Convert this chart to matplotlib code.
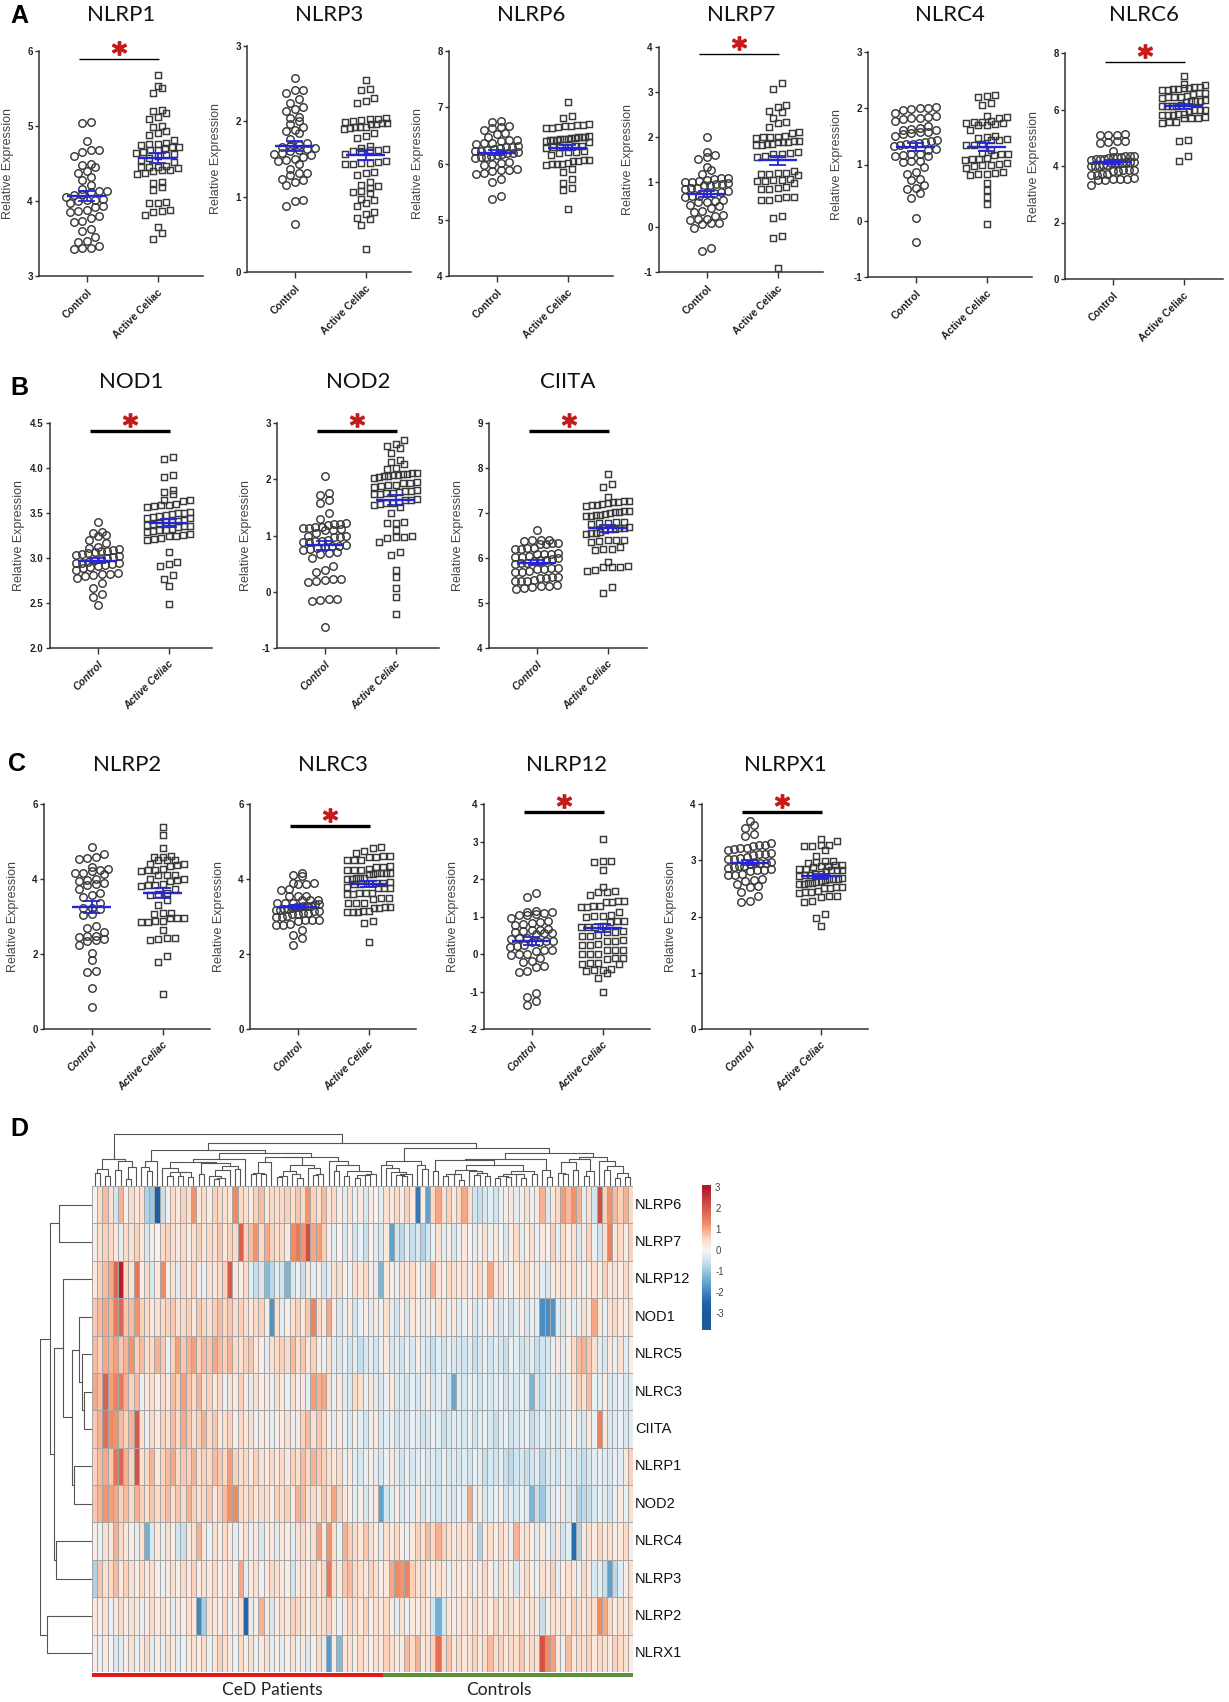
import numpy as np
import matplotlib
matplotlib.use("Agg")
import matplotlib.pyplot as plt
from matplotlib.colors import LinearSegmentedColormap, Normalize
from matplotlib.transforms import ScaledTranslation

plt.rcParams['font.family'] = ['Liberation Sans', 'DejaVu Sans']

W, H, DPI = 1229, 1702, 100

# ---------------- scatter data (relative expression) ----------------
groups = ["Control", "Active Celiac"]

nlrp1_ctrl = [5.05,5.04,4.80,4.68,4.68,4.66,4.60,4.50,4.48,4.45,4.40,4.37,4.32,4.28,4.22,4.16,4.14,4.13,4.12,4.10,4.08,4.06,4.03,4.02,4.01,4.00,3.97,3.94,3.92,3.88,3.87,3.86,3.80,3.77,3.74,3.72,3.63,3.60,3.52,3.47,3.45,3.40,3.38,3.37,3.36]
nlrp1_cel = [5.68,5.54,5.51,5.44,5.21,5.20,5.17,5.12,5.09,5.00,4.98,4.93,4.91,4.88,4.81,4.77,4.76,4.76,4.75,4.72,4.72,4.71,4.68,4.68,4.66,4.64,4.63,4.62,4.60,4.58,4.55,4.52,4.47,4.46,4.45,4.45,4.44,4.42,4.41,4.40,4.38,4.36,4.26,4.24,4.19,4.15,3.99,3.98,3.97,3.88,3.87,3.86,3.82,3.65,3.57,3.49]

nlrp3_ctrl = [2.58,2.42,2.41,2.38,2.29,2.25,2.19,2.17,2.14,2.06,2.05,2.01,1.96,1.92,1.88,1.87,1.84,1.76,1.71,1.69,1.67,1.66,1.65,1.63,1.62,1.61,1.58,1.57,1.55,1.53,1.50,1.49,1.48,1.44,1.37,1.32,1.31,1.29,1.24,1.22,1.19,1.15,0.95,0.94,0.87,0.64]
nlrp3_cel = [2.55,2.43,2.41,2.31,2.27,2.25,2.04,2.03,2.03,2.02,2.01,1.99,1.98,1.98,1.97,1.96,1.93,1.92,1.92,1.91,1.90,1.84,1.80,1.78,1.67,1.65,1.63,1.62,1.62,1.61,1.60,1.56,1.47,1.46,1.45,1.45,1.44,1.43,1.33,1.31,1.29,1.19,1.16,1.14,1.11,1.07,1.06,1.05,0.97,0.95,0.92,0.87,0.79,0.77,0.72,0.70,0.62,0.30]

nlrp6_ctrl = [6.75,6.73,6.66,6.65,6.64,6.60,6.55,6.53,6.47,6.42,6.41,6.40,6.37,6.36,6.35,6.31,6.30,6.29,6.28,6.25,6.24,6.23,6.22,6.21,6.19,6.18,6.17,6.16,6.13,6.12,6.11,6.10,6.02,6.01,6.00,5.98,5.90,5.89,5.88,5.86,5.84,5.82,5.73,5.67,5.43,5.37]
nlrp6_cel = [7.09,6.84,6.81,6.70,6.69,6.68,6.67,6.66,6.65,6.64,6.63,6.49,6.48,6.47,6.47,6.46,6.45,6.44,6.44,6.43,6.42,6.42,6.41,6.40,6.39,6.32,6.31,6.30,6.30,6.29,6.28,6.22,6.21,6.20,6.19,6.15,6.07,6.06,6.05,6.04,6.01,6.00,6.00,5.99,5.98,5.91,5.85,5.73,5.66,5.57,5.53,5.20]

nlrp7_ctrl = [2.00,1.67,1.60,1.55,1.52,1.34,1.27,1.18,1.10,1.08,1.07,1.05,1.02,1.01,1.00,0.98,0.96,0.95,0.94,0.93,0.87,0.86,0.85,0.80,0.78,0.76,0.75,0.70,0.69,0.67,0.60,0.58,0.56,0.55,0.48,0.46,0.42,0.36,0.33,0.27,0.25,0.18,0.17,0.15,0.10,0.08,0.07,-0.02,-0.47,-0.53]
nlrp7_cel = [3.20,3.07,2.71,2.66,2.58,2.56,2.42,2.34,2.32,2.22,2.12,2.09,2.02,2.01,2.00,1.99,1.98,1.92,1.91,1.90,1.89,1.88,1.85,1.84,1.83,1.82,1.66,1.64,1.63,1.62,1.58,1.56,1.25,1.20,1.19,1.18,1.17,1.16,1.06,1.05,1.04,1.03,1.02,0.97,0.88,0.86,0.85,0.84,0.67,0.66,0.65,0.61,0.59,0.25,0.19,-0.20,-0.24,-0.90]

nlrc4_ctrl = [2.02,2.01,2.00,1.99,1.97,1.91,1.86,1.84,1.83,1.82,1.81,1.77,1.68,1.65,1.63,1.62,1.61,1.58,1.57,1.56,1.55,1.50,1.43,1.42,1.40,1.39,1.37,1.36,1.35,1.33,1.27,1.25,1.19,1.18,1.17,1.16,1.15,1.07,1.06,1.04,0.95,0.86,0.84,0.74,0.72,0.64,0.59,0.57,0.50,0.41,0.05,-0.37]
nlrc4_cel = [2.24,2.22,2.20,2.09,2.05,1.86,1.84,1.82,1.77,1.76,1.75,1.74,1.73,1.72,1.71,1.70,1.62,1.50,1.49,1.48,1.45,1.44,1.43,1.36,1.35,1.34,1.26,1.20,1.19,1.18,1.17,1.11,1.10,1.09,1.08,1.02,1.01,1.00,0.99,0.98,0.94,0.86,0.85,0.84,0.83,0.82,0.67,0.55,0.43,0.29,-0.05]

nlrc6_ctrl = [5.12,5.10,5.09,5.08,4.90,4.87,4.85,4.80,4.52,4.36,4.35,4.34,4.33,4.32,4.31,4.27,4.26,4.25,4.24,4.23,4.15,4.14,4.13,4.12,4.12,4.11,4.10,4.03,4.02,4.01,4.00,3.99,3.87,3.86,3.85,3.84,3.83,3.71,3.70,3.69,3.68,3.56,3.55,3.54,3.53,3.52,3.51,3.34]
nlrc6_cel = [7.20,6.92,6.88,6.80,6.78,6.76,6.75,6.72,6.71,6.70,6.68,6.60,6.58,6.56,6.48,6.46,6.45,6.44,6.42,6.32,6.31,6.30,6.29,6.28,6.15,6.14,6.13,6.12,6.11,5.99,5.98,5.97,5.96,5.84,5.83,5.82,5.81,5.80,5.72,5.71,5.70,5.69,5.57,5.55,5.53,4.93,4.88,4.34,4.17]

nod1_ctrl = [3.40,3.29,3.28,3.26,3.24,3.20,3.17,3.12,3.11,3.10,3.09,3.08,3.08,3.07,3.06,3.04,3.03,3.02,3.01,3.00,2.99,2.98,2.96,2.95,2.95,2.94,2.93,2.92,2.91,2.90,2.89,2.87,2.83,2.82,2.82,2.81,2.80,2.78,2.72,2.67,2.60,2.57,2.48]
nod1_cel = [4.12,4.10,3.92,3.90,3.76,3.73,3.71,3.65,3.64,3.63,3.60,3.59,3.59,3.58,3.57,3.51,3.50,3.50,3.49,3.48,3.47,3.46,3.45,3.44,3.42,3.41,3.40,3.40,3.39,3.38,3.37,3.36,3.36,3.35,3.32,3.31,3.31,3.30,3.29,3.27,3.26,3.25,3.24,3.22,3.21,3.20,3.07,2.96,2.93,2.91,2.81,2.77,2.69,2.49]

nod2_ctrl = [2.05,1.75,1.72,1.64,1.57,1.40,1.30,1.22,1.21,1.20,1.19,1.16,1.15,1.14,1.13,1.11,1.10,1.09,1.04,1.00,0.99,0.98,0.97,0.92,0.91,0.90,0.89,0.88,0.83,0.82,0.81,0.80,0.77,0.76,0.75,0.70,0.69,0.68,0.60,0.45,0.39,0.36,0.23,0.22,0.21,0.20,0.18,-0.12,-0.13,-0.14,-0.17,-0.63]
nod2_cel = [2.70,2.62,2.59,2.55,2.46,2.35,2.31,2.28,2.20,2.18,2.12,2.11,2.10,2.09,2.08,2.07,2.06,2.05,2.04,2.03,1.95,1.94,1.93,1.90,1.89,1.88,1.87,1.81,1.80,1.79,1.78,1.76,1.75,1.74,1.73,1.65,1.64,1.63,1.59,1.58,1.57,1.56,1.55,1.50,1.40,1.24,1.23,1.22,1.10,0.99,0.98,0.97,0.96,0.89,0.71,0.65,0.39,0.27,0.06,-0.09,-0.40]

ciita_ctrl = [6.62,6.41,6.40,6.39,6.38,6.34,6.33,6.32,6.31,6.23,6.22,6.21,6.20,6.11,6.10,6.09,6.08,6.04,6.03,6.02,6.01,5.97,5.96,5.95,5.94,5.89,5.88,5.87,5.78,5.77,5.76,5.75,5.71,5.70,5.69,5.58,5.57,5.56,5.55,5.51,5.50,5.49,5.48,5.39,5.38,5.37,5.36,5.34,5.32]
ciita_cel = [7.86,7.64,7.57,7.36,7.27,7.26,7.25,7.24,7.23,7.19,7.18,7.17,7.16,7.05,7.04,7.03,7.02,7.01,6.97,6.96,6.95,6.94,6.93,6.80,6.79,6.78,6.77,6.76,6.68,6.67,6.66,6.65,6.64,6.63,6.57,6.56,6.55,6.54,6.41,6.40,6.39,6.37,6.35,6.24,6.20,6.19,6.18,5.92,5.83,5.81,5.80,5.79,5.74,5.72,5.35,5.22]

nlrp2_ctrl = [4.85,4.67,4.58,4.56,4.54,4.33,4.26,4.24,4.22,4.17,4.15,4.13,4.00,3.98,3.96,3.89,3.87,3.85,3.73,3.62,3.58,3.53,3.35,3.24,3.22,3.20,3.06,3.04,2.74,2.69,2.60,2.49,2.47,2.45,2.40,2.38,2.36,2.25,2.04,1.85,1.55,1.53,1.09,0.59]
nlrp2_cel = [5.38,5.17,4.82,4.62,4.60,4.58,4.52,4.51,4.50,4.40,4.39,4.37,4.36,4.26,4.25,4.23,4.22,4.12,4.11,4.10,4.00,3.99,3.97,3.96,3.86,3.85,3.83,3.82,3.73,3.62,3.60,3.58,3.44,3.31,3.10,3.09,3.08,2.97,2.96,2.95,2.89,2.88,2.86,2.85,2.64,2.43,2.42,2.41,2.38,1.94,1.80,0.94]

nlrc3_ctrl = [4.15,4.11,4.07,3.90,3.89,3.88,3.87,3.74,3.72,3.56,3.55,3.54,3.45,3.44,3.43,3.37,3.36,3.35,3.34,3.33,3.29,3.28,3.27,3.26,3.25,3.24,3.20,3.19,3.18,3.17,3.16,3.15,3.10,3.09,3.08,3.07,3.01,3.00,2.99,2.92,2.91,2.90,2.89,2.79,2.78,2.77,2.63,2.51,2.42,2.25]
nlrc3_cel = [4.86,4.82,4.76,4.70,4.62,4.61,4.60,4.59,4.52,4.51,4.50,4.34,4.33,4.32,4.26,4.25,4.24,4.23,4.17,4.16,4.15,4.15,4.14,4.13,4.04,4.03,4.02,4.01,4.00,3.91,3.90,3.89,3.89,3.88,3.87,3.78,3.77,3.76,3.75,3.64,3.63,3.62,3.61,3.60,3.50,3.49,3.48,3.37,3.36,3.35,3.26,3.25,3.24,3.23,3.15,3.14,3.13,3.12,3.11,2.87,2.82,2.33]

nlrp12_ctrl = [1.62,1.53,1.15,1.13,1.12,1.10,1.06,1.05,1.03,0.95,0.88,0.86,0.84,0.79,0.77,0.67,0.65,0.64,0.62,0.58,0.56,0.55,0.53,0.43,0.42,0.40,0.36,0.34,0.33,0.31,0.23,0.22,0.20,0.12,0.11,0.09,0.01,0.00,-0.02,-0.11,-0.19,-0.21,-0.32,-0.34,-0.45,-0.47,-1.05,-1.14,-1.26,-1.35]
nlrp12_cel = [3.08,2.49,2.47,2.46,2.24,1.80,1.67,1.66,1.65,1.58,1.42,1.41,1.40,1.39,1.28,1.27,1.26,1.25,1.13,1.03,1.02,1.01,1.00,0.88,0.87,0.86,0.74,0.73,0.72,0.71,0.61,0.60,0.59,0.50,0.49,0.48,0.37,0.36,0.35,0.26,0.25,0.24,0.12,0.11,0.10,0.01,0.00,-0.01,-0.10,-0.11,-0.12,-0.24,-0.25,-0.26,-0.27,-0.41,-0.42,-0.43,-0.44,-0.50,-0.64,-1.00]

nlrpx1_ctrl = [3.70,3.63,3.57,3.46,3.44,3.30,3.28,3.27,3.26,3.22,3.21,3.20,3.19,3.13,3.12,3.11,3.10,3.05,3.04,3.03,3.02,2.97,2.96,2.96,2.95,2.94,2.90,2.89,2.88,2.87,2.84,2.83,2.82,2.81,2.75,2.74,2.73,2.66,2.65,2.64,2.58,2.54,2.52,2.44,2.36,2.28,2.26]
nlrpx1_cel = [3.37,3.35,3.28,3.27,3.26,3.25,3.19,3.08,2.99,2.98,2.97,2.96,2.92,2.91,2.90,2.89,2.88,2.85,2.84,2.83,2.83,2.82,2.81,2.76,2.75,2.74,2.73,2.72,2.68,2.67,2.66,2.66,2.65,2.64,2.61,2.60,2.59,2.58,2.57,2.53,2.52,2.51,2.50,2.45,2.44,2.43,2.42,2.37,2.36,2.35,2.28,2.26,2.04,1.98,1.83]

# ---------------- heatmap data (scaled expression, columns in display order) ----------------
hm_genes = ["NLRP6", "NLRP7", "NLRP12", "NOD1", "NLRC5", "NLRC3", "CIITA",
            "NLRP1", "NOD2", "NLRC4", "NLRP3", "NLRP2", "NLRX1"]
n_ced, n_controls = 56, 48
hm_groups = ["CeD Patients", "Controls"]

hm_nlrp6 = [0.1,0.5,0.8,0.4,-0.5,0.9,0.1,0.5,0.3,0.4,-0.8,-1.0,-2.8,-0.6,0.2,0.5,0.3,0.6,0.4,1.2,0.3,0.5,0.2,0.6,0.5,0.4,0.3,1.3,0.5,0.4,0.2,0.6,0.8,0.3,0.5,0.4,
            0.5,0.6,0.4,0.7,0.5,1.2,0.6,0.4,0.8,0.3,0.5,0.2,-0.3,0.4,-0.2,0.3,-0.4,0.2,0.1,-0.3,0.4,0.3,0.5,0.2,0.6,0.3,-2.2,0.2,-1.6,0.5,1.0,0.4,0.6,0.3,
            0.5,1.0,0.4,-0.5,-0.6,-0.4,-0.3,-0.5,-0.2,0.2,0.3,-0.3,0.2,0.4,-0.2,0.3,0.9,-0.4,0.3,0.5,1.1,0.8,1.2,0.9,-0.3,0.4,-0.5,2.2,0.6,1.2,0.8,0.6,0.9,0.5]
hm_nlrp7 = [0.2,0.4,0.6,0.5,0.3,-0.3,0.5,0.4,0.6,0.3,-0.4,0.2,0.1,0.5,0.6,0.4,0.3,0.5,0.2,0.4,0.6,0.3,0.5,0.4,0.7,0.3,0.6,0.5,1.9,0.6,0.8,1.2,0.5,1.0,0.6,0.4,
            0.5,0.3,1.3,1.5,1.2,2.2,1.0,1.1,0.6,0.2,-0.3,0.1,-0.4,0.2,-0.5,-0.2,-0.6,0.1,-0.3,-0.4,0.3,-1.6,-0.5,-0.7,-0.3,-0.6,-0.4,-0.8,-0.5,-0.2,0.4,-0.3,0.2,-0.4,
            -0.2,0.3,0.1,-0.3,0.2,0.4,-0.2,0.3,0.1,-0.4,0.2,0.5,-0.3,0.2,0.4,-0.2,0.3,0.1,0.6,-0.3,0.5,0.2,0.4,-0.4,0.3,0.6,-0.2,-0.5,0.4,1.4,0.3,0.5,0.2,0.6]
hm_nlrp12 = [0.3,0.6,0.8,1.0,1.8,2.9,0.5,0.4,1.6,0.2,0.5,-0.4,0.3,1.3,0.2,0.4,-0.3,0.5,0.3,0.6,0.2,-0.2,0.4,0.3,0.5,0.6,2.0,0.3,0.2,0.5,-0.3,-0.6,-0.4,-1.2,-0.7,-0.3,
             -0.5,-1.3,-0.4,-0.2,-0.6,0.3,-0.3,0.2,-0.5,-0.3,0.4,0.5,0.2,-0.2,0.4,0.3,0.5,0.2,-0.3,-1.3,0.3,0.2,-0.2,0.4,0.3,0.5,0.2,-0.3,0.4,0.9,0.3,0.2,0.5,0.4,
             0.3,0.4,-0.2,0.3,0.5,0.2,1.0,0.3,0.4,0.2,-0.2,0.3,0.4,0.5,0.2,0.3,-0.3,-0.4,0.2,0.3,0.4,0.2,0.5,0.3,-0.2,0.3,0.4,0.2,0.6,0.3,0.4,0.2,0.5,0.3]
hm_nod1 = [0.7,0.8,1.0,0.9,1.5,1.8,0.7,0.8,1.2,0.6,0.5,0.3,0.4,0.5,0.6,0.7,0.4,0.5,0.6,0.3,0.7,0.5,0.4,0.6,0.8,0.5,0.7,0.5,0.6,0.4,0.3,0.5,0.6,0.2,-1.8,0.4,
           -0.3,0.2,0.4,0.6,0.3,0.7,1.4,0.5,0.3,1.0,0.2,-0.4,-0.2,0.3,-0.5,-0.2,0.2,-0.3,0.3,-0.2,0.4,-0.3,-0.5,0.2,-0.4,0.3,0.2,-0.3,0.3,-0.2,0.4,0.3,-0.2,0.3,
           -0.3,-0.2,0.2,-0.4,-0.3,-0.2,0.3,-0.3,-0.4,-0.2,-0.5,-0.3,0.2,-0.4,-0.2,-0.3,-1.9,-1.9,-1.8,-0.3,-0.4,0.2,-0.3,-0.2,0.4,0.3,1.0,0.3,-0.2,0.4,0.5,0.3,0.2,0.4]
hm_nlrc5 = [0.8,0.6,1.0,0.9,1.1,0.7,0.9,1.2,0.6,0.8,0.4,0.5,0.9,0.7,-0.2,0.6,1.1,0.7,0.9,1.1,0.6,0.8,0.7,1.0,0.8,0.6,0.9,0.5,0.4,0.6,0.7,0.3,0.2,-0.3,0.4,0.5,
            0.6,0.5,0.8,0.4,0.7,0.3,0.6,0.2,-0.2,0.4,-0.3,-0.4,-0.2,-0.5,-0.3,-0.6,-0.4,-0.3,-0.5,-0.2,0.3,-0.4,-0.3,-0.5,-0.2,-0.4,0.2,-0.3,-0.4,-0.6,-0.3,-0.5,-0.2,-0.4,
            -0.4,-0.5,-0.3,-0.6,-0.4,-0.2,-0.5,-0.3,-0.4,-0.6,-0.2,-0.3,-0.5,-0.4,-0.3,-0.6,-0.5,-0.4,-0.2,0.3,-0.3,0.2,0.5,0.8,0.9,0.7,0.4,-0.3,-0.4,0.3,-0.2,0.4,-0.3,0.2]
hm_nlrc3 = [1.0,0.8,1.9,1.1,1.4,1.5,0.9,0.6,0.8,-0.2,0.3,0.4,0.2,0.5,0.3,0.8,0.6,1.1,0.7,0.5,0.9,0.4,0.6,0.3,0.5,-0.2,0.4,0.3,0.6,0.2,-0.3,0.4,0.2,0.3,-0.2,0.4,
            0.3,-0.2,0.4,0.2,0.3,-0.3,1.1,0.9,1.0,0.4,-0.2,0.3,-0.3,-0.4,0.5,0.4,-0.2,0.3,-0.3,-0.4,-0.2,0.3,-0.4,-0.3,-0.5,-0.2,-0.4,-0.3,0.2,-0.4,-0.3,-0.2,-0.5,-1.5,
            -0.3,-0.4,-0.2,-0.3,-0.5,-0.2,-0.4,-0.3,-0.2,-0.5,-0.3,-0.4,-0.2,-0.3,-1.3,-0.4,-0.6,-0.3,-0.2,-0.4,-0.3,-0.2,0.3,0.6,0.4,0.8,-0.2,-0.3,0.2,-0.4,-0.3,-0.2,-0.4,-0.3]
hm_ciita = [0.7,0.9,1.7,1.3,1.2,0.8,0.6,0.9,2.0,0.4,-0.2,0.5,0.3,0.6,0.4,0.8,0.5,1.0,0.7,0.4,0.6,0.9,0.5,0.7,0.3,0.4,0.6,0.2,0.5,0.3,0.4,-0.2,0.3,0.2,-0.3,0.2,
            0.2,0.4,-0.2,0.3,0.6,0.8,0.4,0.7,0.5,0.2,-0.3,0.3,-0.2,-0.4,0.2,-0.3,-0.5,-0.2,0.3,-0.4,-0.3,-0.2,-0.5,-0.3,-0.4,-0.2,-0.3,-0.5,-0.4,-0.2,-0.3,-0.6,-0.4,-0.3,
            -0.3,-0.4,-0.2,-0.5,-0.3,-0.2,-0.4,-0.6,-0.3,-0.2,-0.5,-0.4,-0.3,-0.2,-0.6,-0.4,-0.3,-0.5,-0.2,-0.4,-0.3,-0.2,0.2,-0.3,-0.4,0.3,-0.2,1.4,0.3,-0.4,-0.3,-0.2,-0.4,-0.3]
hm_nlrp1 = [0.6,0.8,1.0,0.7,1.6,1.8,0.9,0.6,2.1,0.4,0.5,0.9,0.3,0.6,0.8,1.0,0.5,0.7,0.6,0.9,0.4,0.6,0.5,0.8,0.7,0.5,1.1,0.6,0.4,0.5,0.3,0.6,0.4,0.2,0.5,0.3,
            0.5,0.3,0.6,0.4,0.8,0.5,0.9,0.7,0.6,0.4,0.3,0.5,-0.2,0.3,-0.3,-0.4,-0.2,0.2,-0.3,-0.4,-0.2,0.3,-0.3,-0.5,-0.2,-0.4,-0.3,-0.2,-0.4,-0.3,-0.5,-0.2,-0.4,-0.3,
            -0.4,-0.3,-0.5,-0.2,-0.3,-0.6,-0.4,-0.5,-0.3,-0.6,-0.7,-0.5,-0.4,-0.6,-0.5,-0.3,-0.7,-0.4,-0.3,-0.5,-0.2,-0.4,-0.3,-0.5,-0.6,-0.4,-0.3,-0.2,-0.3,-0.4,-0.2,-0.3,0.3,0.6]
hm_nod2 = [0.7,0.9,1.2,1.1,1.0,0.6,0.8,0.5,0.9,0.6,0.4,0.7,0.5,0.6,0.8,0.4,0.7,0.5,0.9,0.6,0.4,0.5,0.7,0.3,0.6,0.8,1.2,1.3,0.5,0.4,0.6,0.3,0.5,0.4,0.2,0.6,
           0.4,0.6,0.3,0.9,0.8,0.4,0.5,0.3,0.7,0.4,1.0,0.6,0.3,0.2,-0.3,0.2,-0.4,-0.2,0.3,-1.6,-0.5,-0.3,0.2,-0.4,-0.2,-0.3,0.3,-0.4,-0.2,-0.3,-0.5,-0.2,-0.3,-0.4,
           -0.2,-0.3,1.0,-0.2,0.3,-0.4,-0.3,-0.2,0.2,-0.5,-0.3,-0.4,-0.2,-0.3,-1.3,-0.6,-1.0,-0.4,-0.3,-0.2,0.3,-0.4,-0.3,-0.8,-0.7,-0.6,-0.4,-0.2,-0.3,-0.5,-0.2,0.3,-0.2,0.4]
hm_nlrc4 = [0.2,-0.2,0.4,0.3,0.9,0.5,0.3,0.2,-0.3,0.4,-1.4,-0.4,0.3,-0.2,0.4,0.2,-0.5,-0.6,0.3,0.4,0.9,0.3,-0.2,0.4,0.2,0.5,0.3,-0.3,0.2,0.4,-0.2,0.3,-0.4,0.2,0.3,-0.3,
            0.3,0.2,-0.3,0.4,0.5,0.3,0.4,1.1,0.3,1.2,0.4,-0.2,0.9,0.6,0.5,0.3,0.7,0.4,0.2,-0.3,0.4,0.3,0.5,0.2,-0.2,0.3,0.6,0.4,0.8,0.5,0.9,0.6,0.4,0.3,
            0.4,0.3,0.5,0.2,-0.8,0.3,0.4,0.2,0.5,0.3,-0.2,0.9,0.3,0.4,0.2,-0.3,0.3,-0.2,-0.4,0.3,-0.5,-0.3,-2.4,-0.8,0.3,0.4,0.2,0.5,0.3,0.4,0.2,0.3,0.5,0.2]
hm_nlrp3 = [-0.8,0.7,0.4,0.5,0.8,0.3,0.6,0.4,0.2,0.5,0.3,0.4,0.2,-0.2,0.3,0.4,0.2,0.5,0.3,0.6,0.2,0.4,0.3,0.5,0.2,0.3,0.4,0.2,1.0,-0.3,0.3,0.4,-0.2,0.3,0.5,0.4,
            0.3,0.2,-0.5,0.3,0.4,0.2,0.6,0.3,0.5,1.5,0.4,0.3,0.7,0.8,0.5,0.4,0.3,0.6,0.4,0.2,0.3,1.0,1.3,1.2,1.4,0.6,0.4,0.5,0.3,0.2,0.4,0.3,-0.2,0.3,
            0.3,0.2,0.4,-0.2,0.3,0.5,0.2,-0.3,0.4,0.3,0.2,-0.4,0.3,0.5,0.2,-0.2,0.4,0.3,0.6,-0.3,0.2,0.4,0.3,-0.2,0.5,0.3,-0.4,-0.3,-0.6,-1.6,-0.7,-0.3,0.2,0.4]
hm_nlrp2 = [0.3,0.2,0.4,-0.2,0.3,0.5,0.2,0.4,0.3,-0.2,0.2,0.5,0.3,0.4,0.2,-0.3,0.3,0.2,0.4,0.3,-2.0,-0.9,0.4,0.3,0.2,0.5,-0.2,0.3,0.4,-2.5,-0.3,0.2,0.9,0.3,-0.4,0.2,
            0.4,0.3,0.6,0.5,0.4,0.2,0.5,0.3,0.4,0.6,0.2,-0.2,0.3,0.5,0.4,0.3,0.6,0.2,0.4,0.3,0.5,0.2,-0.3,0.4,-0.2,0.3,0.2,0.4,0.3,-0.5,-1.4,-0.4,0.3,0.2,
            0.3,0.4,0.2,0.5,0.3,0.4,0.2,0.6,0.3,0.5,0.4,0.3,0.5,0.2,0.4,0.3,-0.6,0.2,0.4,0.3,0.5,0.2,0.6,0.4,0.3,0.5,0.4,1.3,1.0,0.5,0.2,0.4,0.3,0.5]
hm_nlrx1 = [0.2,-0.2,0.3,0.1,-0.4,-0.3,0.2,0.4,-0.2,0.3,0.5,-0.3,0.2,-0.2,0.4,0.3,-0.3,-0.2,0.3,0.4,0.2,0.5,-0.2,0.3,0.6,0.4,0.3,-0.2,0.5,0.2,0.4,-0.2,0.3,0.4,-0.3,0.2,
            -0.3,0.2,0.4,-0.2,0.3,-0.4,0.2,0.5,-0.3,-1.7,0.2,-1.2,0.3,0.4,0.2,0.5,0.3,0.2,0.4,0.3,0.6,0.4,0.3,0.2,0.8,0.5,0.9,0.3,0.4,0.6,1.7,0.5,0.7,0.3,
            0.5,0.3,0.4,0.6,0.3,0.5,0.8,0.4,0.6,0.3,0.5,0.4,0.7,0.3,0.5,0.4,2.1,1.3,1.1,0.3,-0.2,0.8,0.3,0.5,0.4,0.6,0.3,0.5,0.4,0.3,0.6,0.5,0.4,0.2]

# gene (row) dendrogram: (child a, child b, merge height); new nodes numbered from 13
row_links = [(5, 6, 8.4), (4, 13, 10.0), (3, 14, 13.4), (7, 8, 17.7), (15, 16, 20.0),
             (2, 17, 29.4), (0, 1, 33.4), (9, 10, 36.0), (18, 20, 37.7), (19, 21, 42.0),
             (11, 12, 45.4), (22, 23, 51.7)]

# ---------------- figure ----------------
fig = plt.figure(figsize=(W / DPI, H / DPI), dpi=DPI)


def px_axes(left, top, width, height):
    return fig.add_axes([left / W, 1 - (top + height) / H, width / W, height / H])


def swarm(vals, center, px_per_unit):
    v = np.sort(np.asarray(vals, dtype=float))
    xs = np.zeros(len(v))
    tol = 6.5 / px_per_unit
    rows, cur = [], [0]
    for i in range(1, len(v)):
        if v[i] - v[cur[0]] <= tol:
            cur.append(i)
        else:
            rows.append(cur)
            cur = [i]
    rows.append(cur)
    for r in rows:
        k = len(r)
        step = 0.115
        if k > 1 and (k - 1) * step > 0.6:
            step = 0.6 / (k - 1)
        for j, idx in enumerate(r):
            xs[idx] = center + (j - (k - 1) / 2) * step
    return xs, v


PX_X = 71.0  # pixels between the two groups
BLUE = '#2525d8'
EDGE = '#3a3a3a'
TITLE_Y = {"A": 15, "B": 382, "C": 765}

panels = [
    # row, title, control, celiac, ylim, yticks, labels, bar y, box, italic, thick bar
    ("A", "NLRP1", nlrp1_ctrl, nlrp1_cel, (3, 6), [3, 4, 5, 6], None, 5.89, (39, 51, 164, 225), False, False),
    ("A", "NLRP3", nlrp3_ctrl, nlrp3_cel, (0, 3), [0, 1, 2, 3], None, None, (247, 46, 164, 226), False, False),
    ("A", "NLRP6", nlrp6_ctrl, nlrp6_cel, (4, 8), [4, 5, 6, 7, 8], None, None, (449, 51, 164, 225), False, False),
    ("A", "NLRP7", nlrp7_ctrl, nlrp7_cel, (-1, 4), [-1, 0, 1, 2, 3, 4], None, 3.84, (659, 47, 164, 225), False, False),
    ("A", "NLRC4", nlrc4_ctrl, nlrc4_cel, (-1, 3), [-1, 0, 1, 2, 3], None, None, (868, 52, 164, 225), False, False),
    ("A", "NLRC6", nlrc6_ctrl, nlrc6_cel, (0, 8), [0, 2, 4, 6, 8], None, 7.68, (1065, 53, 158, 226), False, False),
    ("B", "NOD1", nod1_ctrl, nod1_cel, (2, 4.5), [2, 2.5, 3, 3.5, 4, 4.5], ["2.0", "2.5", "3.0", "3.5", "4.0", "4.5"], 4.41, (50, 423, 162, 225), True, True),
    ("B", "NOD2", nod2_ctrl, nod2_cel, (-1, 3), [-1, 0, 1, 2, 3], None, 2.86, (277, 423, 162, 225), True, True),
    ("B", "CIITA", ciita_ctrl, ciita_cel, (4, 9), [4, 5, 6, 7, 8, 9], None, 8.82, (489, 423, 158, 225), True, True),
    ("C", "NLRP2", nlrp2_ctrl, nlrp2_cel, (0, 6), [0, 2, 4, 6], None, None, (44, 804, 166, 225), True, True),
    ("C", "NLRC3", nlrc3_ctrl, nlrc3_cel, (0, 6), [0, 2, 4, 6], None, 5.41, (250, 804, 166, 225), True, True),
    ("C", "NLRP12", nlrp12_ctrl, nlrp12_cel, (-2, 4), [-2, -1, 0, 1, 2, 3, 4], None, 3.79, (484, 804, 166, 225), True, True),
    ("C", "NLRPX1", nlrpx1_ctrl, nlrpx1_cel, (0, 4), [0, 1, 2, 3, 4], None, 3.86, (702, 804, 166, 225), True, True),
]

for row, title, ctrl, cel, ylim, yticks, ylabels, bar_y, box, italic, thick in panels:
    left, top, width, height = box
    ax = px_axes(left, top, width, height)
    ax.set_xlim(-0.67, width / PX_X - 0.67)
    ax.set_ylim(*ylim)
    ppu = height / (ylim[1] - ylim[0])
    for pos, vals, mk, ms in ((0, ctrl, 'o', 5.4), (1, cel, 's', 5.0)):
        xs, v = swarm(vals, pos, ppu)
        ax.plot(xs, v, ls='none', marker=mk, ms=ms, mfc='none', mec=EDGE, mew=1.05, zorder=3)
        m = v.mean()
        s = v.std(ddof=1) / np.sqrt(len(v))
        ax.hlines(m, pos - 0.27, pos + 0.27, color=BLUE, lw=1.7, zorder=5)
        ax.vlines(pos, m - s, m + s, color=BLUE, lw=1.3, zorder=5)
        ax.hlines([m - s, m + s], pos - 0.12, pos + 0.12, color=BLUE, lw=1.3, zorder=5)
    for side in ('top', 'right'):
        ax.spines[side].set_visible(False)
    for side in ('left', 'bottom'):
        ax.spines[side].set_color('#333333')
        ax.spines[side].set_linewidth(1.1)
    ax.set_yticks(yticks)
    ax.set_yticklabels(ylabels if ylabels else [str(t) for t in yticks],
                       fontsize=7, fontweight='bold', color='#222222')
    ax.set_xticks([0, 1])
    ax.set_xticklabels(groups, rotation=45, ha='right', va='top', rotation_mode='anchor',
                       fontsize=7.5, fontweight='bold', color='#222222',
                       style='italic' if italic else 'normal')
    ax.tick_params(axis='y', length=3, width=1, pad=1.5, color='#333333')
    ax.tick_params(axis='x', length=4, width=1, pad=4, color='#333333')
    ax.set_ylabel("Relative Expression", fontsize=9, color='#444444')
    ax.yaxis.set_label_coords(-25 / width, 0.5)
    fig.text((left + width / 2) / W, 1 - TITLE_Y[row] / H, title, ha='center', va='center',
             fontsize=16, family=['Lato', 'DejaVu Sans'], color='#111111')
    if bar_y is not None:
        ax.plot([-0.1, 1.02], [bar_y, bar_y], color='black', lw=2.4 if thick else 1.0,
                solid_capstyle='butt', clip_on=False, zorder=4)
        off = ScaledTranslation(0, 11 / DPI, fig.dpi_scale_trans)
        ax.plot([0.45], [bar_y], ls='none', marker=r'$\mathbf{*}$', ms=10, color='#c41a1a',
                transform=ax.transData + off, clip_on=False, zorder=4)

for letter, x, y in (("A", 10, 16), ("B", 10, 388), ("C", 8, 764), ("D", 10, 1129)):
    fig.text(x / W, 1 - y / H, letter, ha='left', va='center', fontsize=18, fontweight='bold')

# ---------------- heatmap (panel D) ----------------
M = np.array([hm_nlrp6, hm_nlrp7, hm_nlrp12, hm_nod1, hm_nlrc5, hm_nlrc3, hm_ciita,
              hm_nlrp1, hm_nod2, hm_nlrc4, hm_nlrp3, hm_nlrp2, hm_nlrx1])
nrow, ncol = M.shape

cmap = LinearSegmentedColormap.from_list("pheat", [
    (0.0, '#1d5a9b'), (0.0833, '#2166ac'), (0.25, '#67a9cf'), (0.4167, '#d1e5f0'),
    (0.5, '#f7f7f7'), (0.5833, '#fddbc7'), (0.7167, '#ef8a62'), (1.0, '#b2182b')])
norm = Normalize(-3, 3)

HM_L, HM_T, HM_W, HM_H = 92, 1186, 541, 486
axh = px_axes(HM_L, HM_T, HM_W, HM_H)
axh.pcolormesh(np.arange(ncol + 1), np.arange(nrow + 1), M, cmap=cmap, norm=norm,
               edgecolors='#a6a6a6', linewidth=0.5)
axh.set_xlim(0, ncol)
axh.set_ylim(nrow, 0)
axh.axis('off')
for i, g in enumerate(hm_genes):
    axh.text(ncol + 0.4, i + 0.5, g, ha='left', va='center', fontsize=10.5, color='#111111')

# column dendrogram: agglomerative clustering restricted to neighbouring columns (complete linkage)
X = M.T
D = np.sqrt(((X[:, None, :] - X[None, :, :]) ** 2).sum(-1))
clusters = [dict(mem=[i], x=i + 0.5, h=0.0) for i in range(ncol)]
col_links = []
while len(clusters) > 1:
    best = None
    for k in range(len(clusters) - 1):
        a, b = clusters[k], clusters[k + 1]
        d = D[np.ix_(a['mem'], b['mem'])].max()
        if best is None or d < best[0]:
            best = (d, k)
    d, k = best
    a, b = clusters[k], clusters[k + 1]
    h = max(d, a['h'], b['h'])
    col_links.append((a['x'], a['h'], b['x'], b['h'], h))
    clusters[k:k + 2] = [dict(mem=a['mem'] + b['mem'], x=(a['x'] + b['x']) / 2, h=h)]

axc = px_axes(HM_L, 1133, HM_W, HM_T - 1133)
for xa, ha_, xb, hb, h in col_links:
    axc.plot([xa, xa, xb, xb], [ha_, h, h, hb], color='#555555', lw=0.8)
axc.set_xlim(0, ncol)
axc.set_ylim(0, clusters[0]['h'] * 1.01)
axc.axis('off')

# row dendrogram
axr = px_axes(40, HM_T, HM_L - 40, HM_H)
nodes = {i: (i + 0.5, 0.0) for i in range(nrow)}
for k, (a, b, h) in enumerate(row_links):
    ya, ha_ = nodes[a]
    yb, hb = nodes[b]
    axr.plot([ha_, h, h, hb], [ya, ya, yb, yb], color='#555555', lw=0.8)
    nodes[nrow + k] = ((ya + yb) / 2, h)
axr.set_xlim(HM_L - 40, 0)
axr.set_ylim(nrow, 0)
axr.axis('off')

# group annotation bar
axg = px_axes(HM_L, HM_T + HM_H + 1, HM_W, 4)
axg.axvspan(0, n_ced, color='#e01b1b', lw=0)
axg.axvspan(n_ced, n_ced + n_controls, color='#5e8f3e', lw=0)
axg.set_xlim(0, ncol)
axg.axis('off')
fig.text(272 / W, 1 - 1690 / H, hm_groups[0], ha='center', va='center', fontsize=12.5,
         family=['Lato', 'DejaVu Sans'], color='#222222')
fig.text(499 / W, 1 - 1690 / H, hm_groups[1], ha='center', va='center', fontsize=12.5,
         family=['Lato', 'DejaVu Sans'], color='#222222')

# colour key
axk = px_axes(702, 1185, 9, 145)
grad = np.linspace(3.1, -3.8, 256)[:, None]
axk.imshow(grad, aspect='auto', cmap=cmap, norm=norm, extent=(0, 1, -3.8, 3.1))
axk.set_ylim(-3.8, 3.1)
axk.set_xticks([])
axk.yaxis.tick_right()
axk.set_yticks(range(-3, 4))
axk.set_yticklabels([str(t) for t in range(-3, 4)], fontsize=7, color='#444444')
axk.tick_params(axis='y', length=0, pad=3)
for s in axk.spines.values():
    s.set_visible(False)

fig.savefig("out.png", dpi=DPI)
